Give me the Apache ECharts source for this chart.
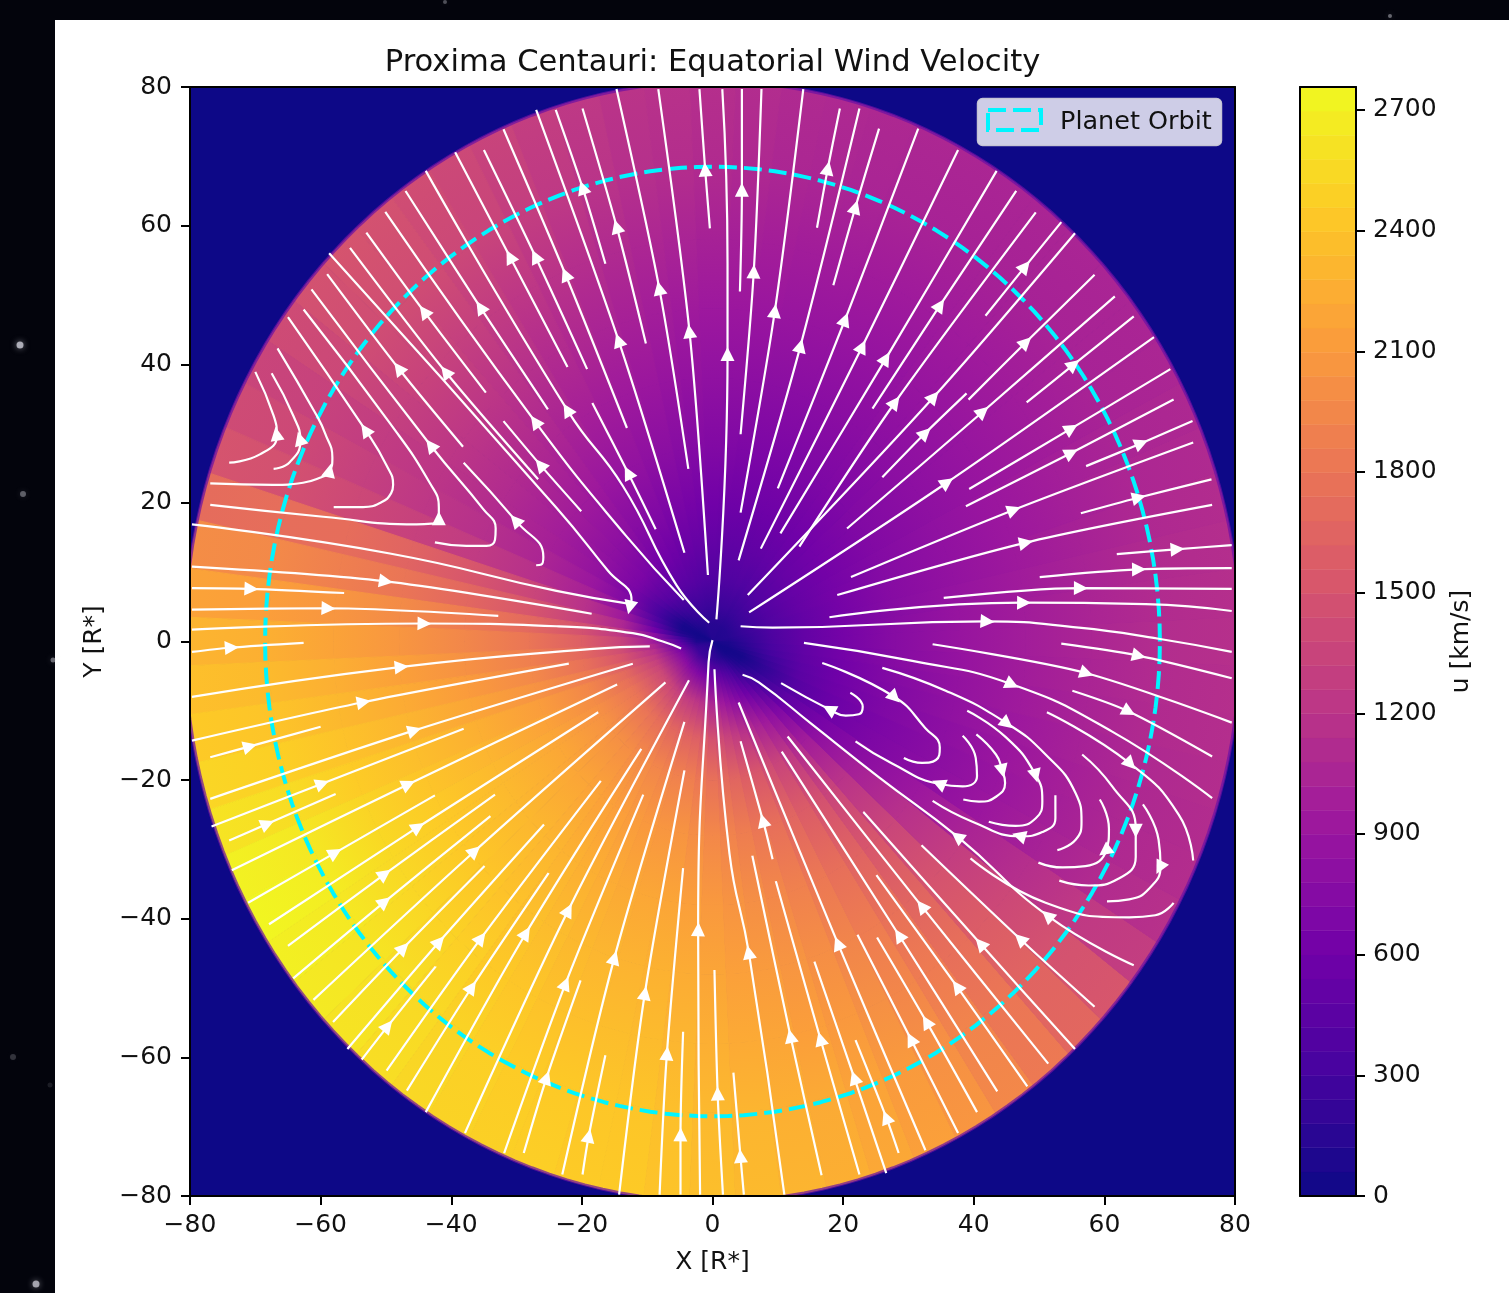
<!DOCTYPE html>
<html><head><meta charset="utf-8">
<style>html,body{margin:0;padding:0;background:#03040c;overflow:hidden}#c{width:1509px;height:1293px;filter:blur(0.6px)}</style>
<script src="https://cdn.jsdelivr.net/npm/echarts@6/dist/echarts.min.js"></script>
</head><body><div id="c"></div>
<script>
const xTicks = [-80,-60,-40,-20,0,20,40,60,80];
const yTicks = [-80,-60,-40,-20,0,20,40,60,80];
const colorbarTicks = [0,300,600,900,1200,1500,1800,2100,2400,2700];
const colorbarMax = 2757;
const plasma = ['#0d0887','#46039f','#7201a8','#9c179e','#bd3786','#d8576b','#ed7953','#fb9f3a','#fdca26','#f0f921'];
const planetOrbitRadius = 68.5;
const domainRadius = 80.8;

// wind speed u [km/s]: one row per 5 degree sector (from +X, anticlockwise), one column per ring
const ringEdges = [0,2.5,5,9,14,20,28,38,48,58,68,domainRadius];
const sectorStep = 5;
const windSpeed = [
[60,120,260,440,570,700,830,930,1020,1090,1160],
[80,130,270,440,570,700,830,930,1010,1080,1150],
[100,150,280,440,570,700,820,920,1000,1070,1140],
[100,170,290,450,570,700,810,900,980,1050,1120],
[100,170,300,460,580,700,800,880,960,1030,1100],
[100,170,310,470,580,690,790,870,950,1020,1080],
[100,170,320,480,580,680,780,860,930,1000,1060],
[100,170,320,480,580,670,770,850,920,990,1050],
[100,170,320,480,570,670,770,850,920,990,1050],
[100,170,320,470,560,660,760,840,910,980,1050],
[100,170,310,460,550,650,750,840,910,980,1050],
[100,170,310,450,540,640,740,830,910,980,1050],
[100,170,300,440,540,640,740,830,910,980,1060],
[110,170,320,440,530,630,730,830,915,990,1070],
[120,170,320,430,530,630,730,830,920,1000,1080],
[120,170,320,430,530,630,740,840,930,1010,1090],
[120,170,320,430,530,640,750,850,940,1020,1100],
[120,170,320,440,540,650,765,865,955,1040,1125],
[120,170,320,450,550,660,780,880,970,1060,1150],
[120,170,320,460,565,680,800,900,995,1085,1175],
[120,170,320,470,580,700,820,930,1020,1110,1200],
[120,170,340,480,600,725,850,960,1055,1145,1240],
[120,170,350,500,620,750,880,990,1090,1190,1290],
[110,150,340,520,650,780,910,1030,1140,1240,1350],
[100,140,340,540,670,800,940,1060,1170,1290,1400],
[90,130,330,550,690,830,970,1100,1210,1330,1440],
[80,120,320,570,720,860,1000,1130,1250,1370,1480],
[70,110,280,590,740,880,1020,1150,1270,1390,1500],
[60,100,220,600,750,890,1040,1170,1280,1390,1480],
[50,80,150,590,760,900,1050,1170,1270,1350,1420],
[40,60,90,560,770,920,1060,1170,1250,1300,1360],
[30,50,70,560,820,980,1110,1200,1260,1360,1420],
[30,50,80,650,920,1080,1220,1300,1350,1430,1500],
[35,60,130,800,1060,1270,1450,1600,1700,1760,1720],
[40,70,250,950,1200,1420,1600,1750,1850,1930,2000],
[45,90,500,1100,1350,1600,1780,1930,2030,2110,2170],
[50,120,700,1200,1480,1720,1880,2020,2130,2220,2300],
[60,180,850,1300,1570,1800,1970,2100,2210,2300,2380],
[70,260,950,1380,1650,1880,2050,2180,2280,2370,2450],
[80,320,1020,1470,1750,1970,2130,2250,2350,2440,2530],
[90,360,1080,1550,1840,2050,2200,2320,2410,2510,2620],
[100,380,1120,1600,1900,2090,2240,2360,2460,2570,2710],
[110,400,1150,1650,1930,2120,2270,2390,2490,2600,2740],
[120,410,1160,1660,1950,2130,2270,2390,2490,2590,2700],
[120,410,1160,1650,1950,2120,2270,2380,2480,2580,2660],
[120,410,1130,1630,1930,2110,2260,2370,2460,2550,2620],
[120,410,1100,1600,1910,2100,2250,2350,2440,2520,2580],
[120,420,1080,1570,1890,2080,2230,2330,2410,2480,2540],
[120,420,1050,1550,1870,2060,2210,2310,2390,2450,2510],
[120,410,1020,1520,1840,2040,2180,2290,2360,2430,2490],
[120,400,1000,1500,1820,2020,2160,2270,2340,2410,2480],
[120,390,970,1470,1800,2000,2150,2250,2320,2390,2460],
[120,380,930,1430,1770,1980,2130,2240,2310,2380,2450],
[120,360,880,1370,1710,1930,2090,2200,2270,2340,2410],
[120,340,830,1300,1650,1880,2040,2150,2220,2290,2370],
[110,320,780,1220,1590,1830,2000,2110,2190,2260,2340],
[100,300,720,1150,1530,1780,1960,2070,2150,2220,2300],
[90,280,660,1080,1460,1720,1900,2020,2100,2180,2260],
[80,250,600,1000,1380,1650,1840,1960,2050,2130,2210],
[70,220,540,920,1300,1570,1760,1890,1980,2060,2150],
[60,200,480,850,1220,1480,1680,1820,1910,1980,2070],
[50,160,400,770,1110,1370,1570,1720,1820,1890,1960],
[40,120,320,680,990,1240,1450,1600,1710,1780,1840],
[35,90,250,570,850,1080,1290,1440,1540,1620,1680],
[30,70,180,470,700,900,1090,1240,1340,1440,1520],
[30,50,120,400,570,720,850,990,1100,1200,1290],
[30,45,80,350,510,640,750,850,970,1060,1170],
[30,40,70,340,500,630,740,840,950,1040,1130],
[30,50,90,370,520,650,760,860,960,1040,1120],
[35,70,140,390,530,670,780,880,970,1050,1130],
[40,90,190,410,550,680,800,900,990,1070,1140],
[50,100,230,430,560,690,820,920,1010,1080,1150]
];

// streamlines in flow order, [X, Y] in R*; the *Arrows arrays give the vertex carrying an arrowhead
const streamsUpperLeft = [
[[-0.4,59.6],[-1.1,67.8],[-2,79.7]],
[[-0.7,9.6],[-3.5,44.5],[-8.3,79.7]],
[[-3.7,24.9],[-8.1,50.7],[-14.7,79.7]],
[[-10.2,43],[-14.6,59.6],[-19.9,76.9]],
[[-16.4,54.5],[-19.8,65.2],[-24,76.7]],
[[-4.3,12.8],[-14.3,43.2],[-27,76.7]],
[[-13.1,30.8],[-22.4,52.7],[-32,73.9]],
[[-19.2,39.3],[-27,55.3],[-35,70.9]],
[[-22.2,39.6],[-30.9,55.3],[-39.4,70.6]],
[[-25.2,33.5],[-35.4,48],[-47,65]],
[[-0.5,2.7],[-5.5,8.1],[-13.7,22.4],[-22.1,33.2],[-43.9,67.9]],
[[-4.4,6],[-13.2,15.2],[-27,31.5],[-50.1,62]],
[[-34.7,35.9],[-44,47.4],[-53,59]],
[[-26.7,23.4],[-40.7,38.7],[-55.5,56.8]],
[[-38.2,28.1],[-47.9,39.2],[-59,53]],
[[-8.7,16.2],[-12.8,24.1],[-18.4,34.4]],
[[-20.1,18.8],[-26.2,25.3],[-32,31.8]],
[[-27,11],[-26.2,11.1],[-25.9,12.2],[-30,17.3],[-38.1,25.8]],
[[-58.7,56],[-23.9,19.3],[-16,10.2],[-12.4,6],[-12.6,5.2]],
[[-42.5,14.3],[-37.7,13.8],[-34.6,13.8],[-33.3,14.7],[-33.2,16.3],[-35.1,19.1],[-43,28.1],[-61.4,50.8]],
[[-76.9,19.7],[-59.6,18],[-45.3,16.9],[-43,17],[-41.9,17.5],[-41.9,19.3],[-43.3,22.9],[-49.4,31.5],[-62.6,47.9]],
[[-58,19.4],[-53.5,19.4],[-50.7,20.1],[-49.2,21.4],[-48.9,22.6],[-49.9,25.4],[-53,30.3],[-65,46.8]],
[[-76.9,22.8],[-67.3,22.6],[-62.7,22.9],[-59.9,23.7],[-58.7,24.4],[-58.2,26.5],[-59.3,30],[-60.6,32.6],[-66.6,42.3]],
[[-67.2,24.9],[-64.7,25.9],[-63.1,29],[-64.2,32.6],[-67.5,38.7]],
[[-74,25.8],[-69.3,27],[-66.7,29.7],[-67.2,32.6],[-70,38.9]],
[[-79.7,16.9],[-49.4,12.7],[-23.9,7.3],[-12.4,5.4]],
[[-79.7,10.8],[-50.3,8.7],[-18.5,4]],
[[-79.7,7.7],[-70.9,7.6],[-56.4,7]],
[[-79.7,4.6],[-59.1,4.8],[-32.8,3.7]],
[[-79.7,1.7],[-44.4,2.6],[-23.9,2.2],[-12.2,1.2],[-7.6,0],[-4.8,-1]]
];
const streamsUpperLeftArrows = [1,1,1,1,1,1,1,1,1,1,3,2,1,1,1,1,1,3,4,6,4,6,4,2,2,-1,1,1,1,1];

const streamsLowerLeft = [
[[-79.7,-1.5],[-73.9,-0.9],[-62.6,-0.2]],
[[-79.7,-8],[-47.9,-3.7],[-18.8,-1.1],[-9.6,-0.7]],
[[-79.7,-14.3],[-53.7,-8.8],[-22,-3.2]],
[[-76.9,-16.7],[-71.1,-15.2],[-60,-12.3]],
[[-76.9,-22.7],[-45.9,-12.9],[-12.2,-3.2]],
[[-76.7,-26.7],[-60,-20.6],[-38.1,-12.6]],
[[-74,-28.7],[-68.4,-26.4],[-57.7,-22]],
[[-73.6,-33],[-46.8,-20.7],[-14.6,-6.2]],
[[-71.1,-37.7],[-58,-30.6],[-42.5,-22.2]],
[[-67.9,-40.8],[-45.3,-26.9],[-17.5,-10.2]],
[[-65,-43.9],[-50.4,-33.7],[-33.3,-22.1]],
[[-64.2,-48.6],[-50.4,-37.7],[-34,-25.2]],
[[-61.1,-51.7],[-36.6,-30.4],[-7.2,-5.9]],
[[-58.1,-54.9],[-47.5,-44.4],[-34.9,-32.4]],
[[-55.9,-58.8],[-42,-43.5],[-25.8,-26.4]],
[[-53.7,-60.3],[-49.9,-55.7],[-42.4,-46.9]],
[[-49.9,-61.9],[-35.6,-43],[-17.1,-20.1]],
[[-46.8,-64.8],[-37,-50.1],[-25.1,-33.4]],
[[-43.9,-67.9],[-28.7,-42.3],[-10.9,-15.5]],
[[-37.9,-70.9],[-22.2,-39],[-3.6,-5.6]],
[[-31.9,-73.8],[-22.6,-49.6],[-10.6,-22.1]],
[[-28.9,-73.8],[-25.5,-63.2],[-20.2,-48.9]],
[[-23,-76.9],[-15.1,-45.9],[-4.3,-11.6]],
[[-19.9,-76.9],[-19,-71.6],[-16.4,-59.7]],
[[-14.3,-79.8],[-10.4,-51],[-4.3,-18.6]],
[[-8.1,-79.8],[-7,-59.7],[-4.5,-32.7]],
[[-4.9,-79.8],[-4.9,-71.4],[-4.5,-56.3]],
[[-1.9,-79.8],[-2.2,-41.8],[-0.6,-3],[0,0.2]]
];
const streamsLowerLeftArrows = [1,1,1,1,1,1,1,1,1,1,1,1,1,1,1,1,1,1,1,1,1,1,1,1,1,1,1,1];

const streamsLowerRight = [
[[1.6,-79.8],[0.8,-65.5],[0.3,-47.4]],
[[4.8,-79.8],[4.3,-74.5],[3.2,-62.2]],
[[11,-79.8],[5.6,-45.1],[2.6,-30.6],[0.3,-4]],
[[9.2,-31.4],[7.8,-26.1],[4.3,-14.4]],
[[16.7,-77],[12,-57.2],[6.1,-30.9]],
[[22.5,-76.9],[16.6,-57.6],[9.7,-34.6]],
[[32.6,-73.4],[19.3,-43.8],[4,-8.8]],
[[26.6,-76.7],[21.8,-63.2],[15.6,-46.2]],
[[28.5,-73.8],[26.7,-68.9],[21.9,-57.5]],
[[37.6,-70.9],[30.5,-57.6],[22.2,-42.3]],
[[40.5,-67.9],[32.9,-55.1],[25.2,-42.7]],
[[43.6,-64.9],[28.7,-42.6],[10.6,-15.9]],
[[48.2,-64.2],[37.6,-50],[25.1,-33.7]],
[[51.4,-60.9],[32.2,-38.4],[11.5,-13.7]],
[[55.5,-58.8],[41.2,-43.8],[23.1,-24.6]],
[[58.5,-52.7],[47.3,-43.1],[32,-29.4]],
[[64.5,-46.7],[51.5,-39.7],[37.7,-28.3],[25.5,-19.6],[15.3,-12],[7.1,-5.9],[4.6,-4.8]],
[[70.6,-37.7],[67.8,-39.5],[63.8,-39.8],[51,-37.7],[39.5,-31.3]],
[[21.1,-7.4],[23,-9.4],[22.4,-10.5],[20.4,-10.7],[18.1,-9.9],[10.5,-6]],
[[16.8,-3.1],[27.7,-7.9],[32.6,-12.5],[34.8,-15.3],[34.2,-17.1],[32.1,-17.5],[29.3,-16.8]],
[[38.3,-13.6],[40.3,-16.8],[40.5,-19.4],[38.3,-20.9],[34.9,-20.6],[27.5,-17.6],[21.9,-14.4]],
[[40.4,-13.4],[43.4,-16.3],[44.3,-18.4],[44.8,-20.4],[43.4,-22.4],[40.8,-23.1],[38.4,-22.8]],
[[39,-10],[44.9,-13.8],[49.4,-19.1],[50.5,-23],[49.5,-25.5],[46.4,-26.6],[42.3,-26]],
[[52.5,-22.2],[52.5,-25.5],[50.5,-27.5],[47.2,-28.1],[39.8,-26],[33.7,-23]],
[[26,-3.8],[35.7,-7.1],[44.9,-11.7],[51,-16.3],[55.6,-21.9],[56.5,-26],[55.6,-28.6],[52.8,-30.1]],
[[14,-0.2],[30.6,-2.8],[45.6,-6.1],[61.2,-13],[76.5,-22.6]],
[[33.7,-0.4],[57,-4.5],[79.5,-11.7]],
[[53.4,-0.3],[65,-2],[79.5,-5.3]],
[[55.1,-7.1],[63.5,-10],[76.5,-16.6]],
[[51.2,-10.2],[63.8,-17.5],[71.4,-25],[73.6,-31.6]],
[[56.6,-16.3],[61.2,-20.9],[64.8,-27],[64.8,-31.1],[62.2,-34.2],[57.6,-35.2],[53.1,-34.5]],
[[59.3,-22.8],[60.7,-27],[60.3,-30.1],[57.1,-32.4],[53.6,-32.6],[49.9,-31.9]],
[[65.9,-23.5],[68.3,-28.6],[68.6,-32.4],[66.8,-35.7],[63.8,-37.2],[60.4,-37.5]]
];
const streamsLowerRightArrows = [1,1,1,1,1,1,1,1,1,1,1,1,1,1,1,1,[1,2],-1,4,1,4,2,2,3,2,2,1,1,1,1,2,2,2];

const streamsUpperRight = [
[[0.6,3.2],[2.3,41.2],[2.3,54.5],[1.5,79.7]],
[[4.2,50.5],[4.5,64.9],[4.5,79.7]],
[[4.3,29.9],[6.3,53.1],[7.5,79.7]],
[[4.3,18.6],[9.5,47.4],[13.9,79.7]],
[[16,59.7],[17.6,68],[19.5,76.9]],
[[4,11.7],[13.4,42.4],[22.5,76.9]],
[[18.5,51.4],[21.8,62.4],[25.5,74]],
[[10,22.1],[20.2,46.2],[31.5,74]],
[[7.4,13.4],[22.8,42.3],[37.6,70.9]],
[[10.4,15.6],[26.4,40.6],[43.5,67.9]],
[[24.5,33.6],[34.7,48.3],[46.5,65]],
[[13.3,13.7],[27.8,34.3],[49.5,61.9]],
[[41.8,47],[47.7,53.9],[53.4,60.5]],
[[5.4,6.7],[33.7,35.1],[55.5,58.9]],
[[39.2,34.9],[47.8,43],[58.5,52.9]],
[[20.6,16.3],[41.2,33],[61.6,49.8]],
[[26,23.7],[32.4,29.9],[38.9,35.8]],
[[48.1,34.5],[55.1,39.8],[64.5,46.9]],
[[5.6,4.2],[35.7,22.8],[67.6,43.9]],
[[39.3,22],[54.7,30.6],[70.1,39.3]],
[[38.8,19.5],[54.7,27.1],[70.6,34.9]],
[[57.2,25.3],[65.4,28.5],[73.5,31.8]],
[[21.2,9.3],[45.9,18.9],[73.6,28.7]],
[[56.4,18.5],[65,20.7],[76.4,23.4]],
[[19.1,6.7],[47.7,14.2],[76.5,19.7]],
[[61.9,12.6],[70.9,13.3],[79.5,13.9]],
[[50.1,9.3],[65,10.4],[79.5,10.6]],
[[35.4,6.3],[56.1,7.7],[79.5,7.6]],
[[17.9,3.5],[47.4,5.6],[66.3,5.4],[79.5,4.4]],
[[4.3,2.2],[9.2,2],[41.8,2.9],[56.1,2],[68.3,0.4],[79.5,-1.5]]
];
const streamsUpperRightArrows = [1,1,1,1,1,1,1,1,1,1,1,1,1,1,1,1,1,1,1,1,1,1,1,1,1,1,1,1,1,2];

const FONT = '"DejaVu Sans", sans-serif';
const INK = '#111';
const minus = v => String(v).replace('-', '\u2212');
const colourOf = v => echarts.color.lerp(Math.max(0, Math.min(1, v / colorbarMax)), plasma);

const streams = [].concat(streamsUpperLeft, streamsLowerLeft, streamsLowerRight, streamsUpperRight);
const streamArrows = [].concat(streamsUpperLeftArrows, streamsLowerLeftArrows, streamsLowerRightArrows, streamsUpperRightArrows);

// each cell: sector angle, inner radius, u, outer radius, u at inner edge, u at outer edge
const cells = [];
windSpeed.forEach((row, s) => row.forEach((u, r) => {
  const inner = r > 0 ? (row[r - 1] + u) / 2 : u;
  const outer = r < row.length - 1 ? (row[r + 1] + u) / 2 : u;
  cells.push([s * sectorStep, ringEdges[r], u, ringEdges[r + 1], inner, outer]);
}));

const arrowData = [];
streams.forEach((pts, i) => {
  const at = streamArrows[i];
  (Array.isArray(at) ? at : [at]).forEach(k => {
    if (k < 0) return;
    const p = pts[k];
    const q = k < pts.length - 1 ? pts[k + 1] : [2 * p[0] - pts[k - 1][0], 2 * p[1] - pts[k - 1][1]];
    arrowData.push([p[0], p[1], q[0], q[1]]);
  });
});

const circleOf = radius => {
  const out = [];
  for (let a = 0; a <= 360; a += 2) out.push([radius * Math.cos(a * Math.PI / 180), radius * Math.sin(a * Math.PI / 180)]);
  return out;
};

const levels = [];
const levelCount = 46;
for (let i = 0; i < levelCount; i++) levels.push([colorbarMax * i / levelCount, colorbarMax * (i + 1) / levelCount, colorbarMax * (i + 0.5) / levelCount]);

const frameLine = {show: true, onZero: false, lineStyle: {color: '#000', width: 2}};
const plainAxis = (idx, pos, extra) => Object.assign({type: 'value', gridIndex: idx, position: pos, z: 8, splitLine: {show: false}, axisLine: frameLine, axisTick: {show: false}, axisLabel: {show: false}}, extra);
const mainTicks = {show: true, length: 9, lineStyle: {color: '#000', width: 2}};
const axisName = {fontFamily: FONT, fontSize: 25, color: INK};

const series = [
  {type: 'custom', name: 'u', xAxisIndex: 0, yAxisIndex: 0, coordinateSystem: 'cartesian2d', clip: true, silent: true, z: 2, animation: false,
   data: cells,
   renderItem(params, api) {
     const mid = api.value(0) * Math.PI / 180;
     const a0 = (api.value(0) - sectorStep / 2) * Math.PI / 180, a1 = (api.value(0) + sectorStep / 2) * Math.PI / 180;
     const ri = api.value(1), ro = api.value(3);
     const pts = [];
     for (let t = 0; t <= 2; t++) { const a = a0 + (a1 - a0) * t / 2; pts.push(api.coord([ro * Math.cos(a), ro * Math.sin(a)])); }
     for (let t = 2; t >= 0; t--) { const a = a0 + (a1 - a0) * t / 2; pts.push(api.coord([ri * Math.cos(a), ri * Math.sin(a)])); }
     const g0 = api.coord([ri * Math.cos(mid), ri * Math.sin(mid)]), g1 = api.coord([ro * Math.cos(mid), ro * Math.sin(mid)]);
     const fill = new echarts.graphic.LinearGradient(g0[0], g0[1], g1[0], g1[1], [
       {offset: 0, color: colourOf(api.value(4))}, {offset: 1, color: colourOf(api.value(5))}], true);
     return {type: 'polygon', shape: {points: pts}, style: {fill, stroke: fill, lineWidth: 1}};
   }},
  {type: 'custom', name: 'domainEdge', xAxisIndex: 0, yAxisIndex: 0, clip: true, silent: true, z: 2.5, animation: false,
   data: [[domainRadius]],
   renderItem(params, api) {
     const pts = circleOf(api.value(0)).map(p => api.coord(p));
     return {type: 'polyline', shape: {points: pts}, style: {fill: 'none', stroke: 'rgba(105,15,165,0.7)', lineWidth: 3}};
   }},
  {type: 'line', name: 'Planet Orbit', xAxisIndex: 0, yAxisIndex: 0, data: circleOf(planetOrbitRadius), showSymbol: false, symbol: 'none', z: 3, silent: true, animation: false,
   lineStyle: {color: '#00f5ff', width: 4, type: [18, 7]}},
  {type: 'custom', name: 'colorbar', xAxisIndex: 2, yAxisIndex: 2, silent: true, z: 2, animation: false,
   data: levels,
   renderItem(params, api) {
     const a = api.coord([0, api.value(0)]), b = api.coord([1, api.value(1)]);
     const c = colourOf(api.value(2));
     return {type: 'rect', shape: {x: a[0], y: b[1], width: b[0] - a[0], height: a[1] - b[1]}, style: {fill: c, stroke: c, lineWidth: 0.5}};
   }},
  {type: 'custom', name: 'arrows', xAxisIndex: 0, yAxisIndex: 0, silent: true, z: 6, animation: false, clip: true,
   data: arrowData,
   renderItem(params, api) {
     const p = api.coord([api.value(0), api.value(1)]), q = api.coord([api.value(2), api.value(3)]);
     let dx = q[0] - p[0], dy = q[1] - p[1]; const n = Math.hypot(dx, dy) || 1; dx /= n; dy /= n;
     return {type: 'polygon', shape: {points: [
       [p[0] + dx * 9, p[1] + dy * 9],
       [p[0] - dx * 5 - dy * 7, p[1] - dy * 5 + dx * 7],
       [p[0] - dx * 5 + dy * 7, p[1] - dy * 5 - dx * 7]]}, style: {fill: '#fff'}};
   }}
];
streams.forEach(pts => series.push({type: 'line', xAxisIndex: 0, yAxisIndex: 0, data: pts, symbol: 'none', showSymbol: false, smooth: pts.length > 3 ? 0.5 : 0.3, z: 5, silent: true, animation: false, lineStyle: {color: '#fff', width: 2.2}}));

const stars = [[20,345,3.5,0.75],[23,494,3,0.4],[53,660,2.5,0.45],[13,1057,3,0.22],[50,1085,2.5,0.12],[36,1284,3.5,0.7],[445,2,2,0.35],[1390,16,2,0.45]];

const option = {
  animation: false,
  backgroundColor: '#03040c',
  textStyle: {fontFamily: FONT},
  title: {text: 'Proxima Centauri: Equatorial Wind Velocity', left: 707.5, top: 43, textAlign: 'center', textStyle: {fontFamily: FONT, fontSize: 30.6, fontWeight: 'normal', color: INK}},
  grid: [
    {left: 190, top: 87, width: 1045, height: 1109, backgroundColor: '#0d0887', show: true, borderWidth: 0},
    {left: 1300, top: 87, width: 56, height: 1109}
  ],
  xAxis: [
    plainAxis(0, 'bottom', {min: -80, max: 80, interval: 20, name: 'X [R*]', nameLocation: 'middle', nameGap: 54, nameTextStyle: axisName, axisTick: mainTicks,
      axisLabel: {show: true, fontFamily: FONT, fontSize: 25, color: INK, margin: 17, formatter: minus}}),
    plainAxis(0, 'top', {min: -80, max: 80}),
    plainAxis(1, 'bottom', {min: 0, max: 1}),
    plainAxis(1, 'top', {min: 0, max: 1})
  ],
  yAxis: [
    plainAxis(0, 'left', {min: -80, max: 80, interval: 20, name: 'Y [R*]', nameLocation: 'middle', nameGap: 83, nameRotate: 90, nameTextStyle: axisName, axisTick: mainTicks,
      axisLabel: {show: true, fontFamily: FONT, fontSize: 25, color: INK, margin: 18, formatter: minus, padding: [4, 0, 0, 0]}}),
    plainAxis(0, 'right', {min: -80, max: 80}),
    plainAxis(1, 'right', {min: 0, max: colorbarMax, name: 'u [km/s]', nameLocation: 'middle', nameGap: 93, nameRotate: 90, nameTextStyle: axisName,
      axisTick: {show: true, length: 9, lineStyle: {color: '#000', width: 2}, customValues: colorbarTicks},
      axisLabel: {show: true, fontFamily: FONT, fontSize: 25, color: INK, margin: 17, customValues: colorbarTicks, formatter: v => String(v), padding: [8, 0, 0, 0]}}),
    plainAxis(1, 'left', {min: 0, max: colorbarMax})
  ],
  graphic: [
    {type: 'rect', z: -10, silent: true, shape: {x: 55, y: 20, width: 1454, height: 1273}, style: {fill: '#fff'}},
    ...stars.map(s => ({type: 'circle', z: -10, silent: true, shape: {cx: s[0], cy: s[1], r: s[2]}, style: {fill: 'rgba(215,215,225,' + s[3] + ')', shadowBlur: 6, shadowColor: 'rgba(215,215,225,' + s[3] + ')'}})),
    {type: 'rect', z: 100, silent: true, shape: {x: 977.5, y: 98.5, width: 244, height: 47, r: 5}, style: {fill: 'rgba(255,255,255,0.8)', stroke: 'rgba(205,205,215,0.9)', lineWidth: 1.5}},
    {type: 'rect', z: 101, silent: true, shape: {x: 988, y: 110, width: 53, height: 20}, style: {fill: 'none', stroke: '#00f5ff', lineWidth: 4, lineDash: [18, 7]}},
    {type: 'text', z: 101, silent: true, x: 1060, y: 122, style: {text: 'Planet Orbit', fontFamily: FONT, fontSize: 25.5, fill: INK, verticalAlign: 'middle'}}
  ],
  series
};
const chart = echarts.init(document.getElementById('c'), null, {renderer: 'canvas', width: 1509, height: 1293});
chart.setOption(option);
</script></body></html>
